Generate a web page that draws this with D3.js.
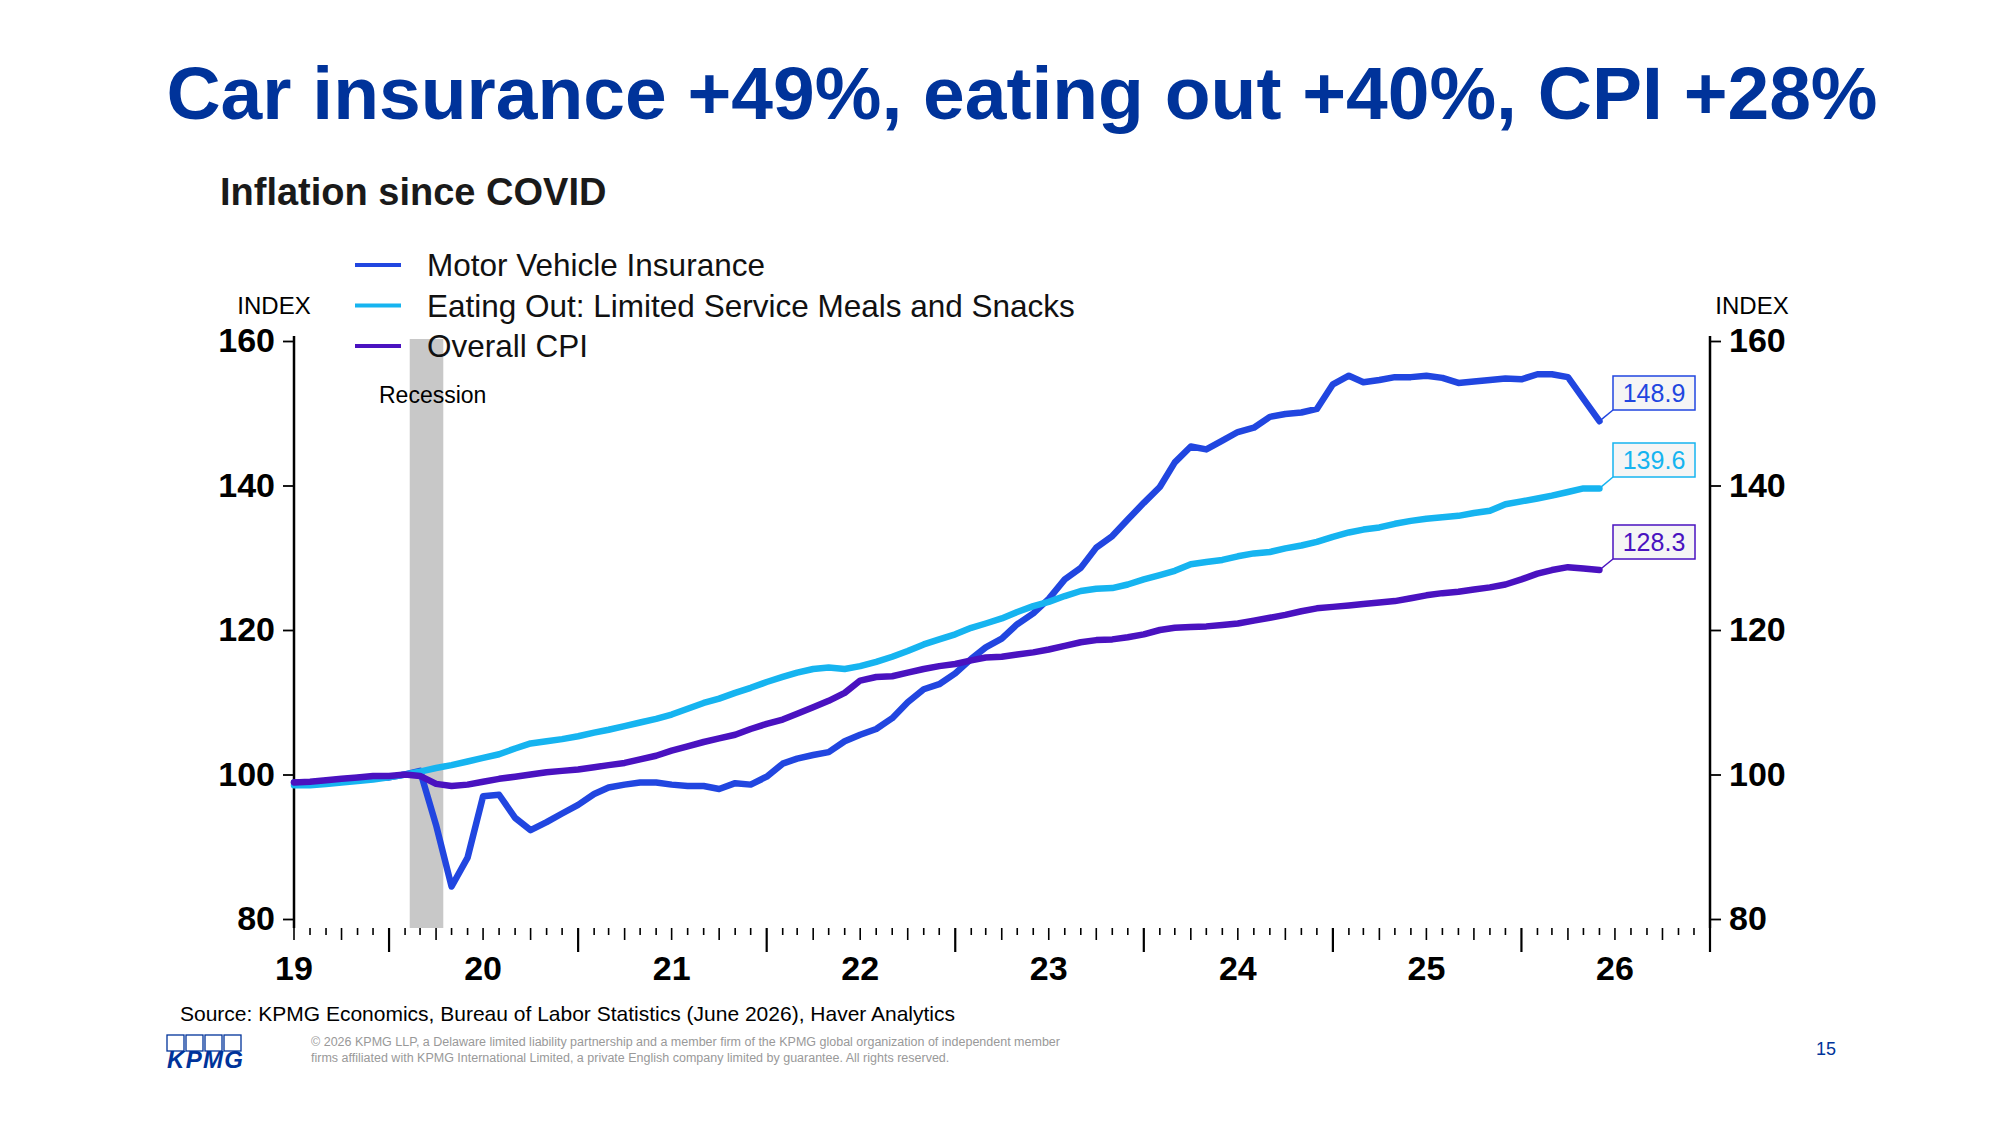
<!DOCTYPE html>
<html>
<head>
<meta charset="utf-8">
<script src="https://cdn.jsdelivr.net/npm/d3@7"></script>
<style>
  body { margin: 0; background: #fff; }
  svg { display: block; font-family: "Liberation Sans", Arial, sans-serif; }
</style>
</head>
<body>
<div id="chart"></div>
<script>
const width = 2001;
const height = 1125;

// monthly, Jul 2019 .. Jun 2026
const startMonth = new Date(2019, 6, 1);
const insurance = [98.9, 98.9, 99.1, 99.3, 99.5, 99.6, 99.6, 100.0, 100.5, 93.0, 84.5, 88.5,
  97.0, 97.2, 94.0, 92.3, 93.4, 94.6, 95.8, 97.3, 98.2, 98.6, 98.9, 98.9,
  98.6, 98.4, 98.4, 98.0, 98.8, 98.6, 99.7, 101.5, 102.2, 102.7, 103.1, 104.6,
  105.5, 106.3, 107.8, 110.0, 111.8, 112.5, 114.0, 116.0, 117.6, 118.8, 120.8, 122.3,
  124.3, 127.0, 128.6, 131.4, 133.0, 135.3, 137.6, 139.8, 143.2, 145.4, 145.0, 146.2,
  147.4, 148.0, 149.5, 149.9, 150.1, 150.6, 154.0, 155.2, 154.3, 154.6, 155.0, 155.0,
  155.2, 154.9, 154.2, 154.4, 154.6, 154.8, 154.7, 155.4, 155.4, 155.0, 152.0, 148.9];
const eatingOut = [98.5, 98.5, 98.7, 98.9, 99.1, 99.3, 99.6, 100.0, 100.4, 100.9, 101.3, 101.8,
  102.3, 102.8, 103.6, 104.3, 104.6, 104.9, 105.3, 105.8, 106.2, 106.7, 107.2, 107.7,
  108.3, 109.1, 109.9, 110.5, 111.3, 112.0, 112.8, 113.5, 114.1, 114.6, 114.8, 114.6,
  115.0, 115.6, 116.3, 117.1, 118.0, 118.7, 119.4, 120.3, 120.9, 121.6, 122.5, 123.3,
  123.9, 124.7, 125.4, 125.7, 125.8, 126.3, 127.0, 127.6, 128.2, 129.1, 129.4, 129.7,
  130.2, 130.6, 130.8, 131.3, 131.7, 132.2, 132.9, 133.5, 133.9, 134.2, 134.7, 135.1,
  135.4, 135.6, 135.8, 136.2, 136.5, 137.4, 137.8, 138.2, 138.6, 139.1, 139.6, 139.6];
const cpi = [98.9, 99.0, 99.2, 99.4, 99.6, 99.8, 99.8, 100.0, 99.8, 98.7, 98.4, 98.6,
  99.0, 99.4, 99.7, 100.0, 100.3, 100.5, 100.7, 101.0, 101.3, 101.6, 102.1, 102.6,
  103.3, 103.9, 104.5, 105.0, 105.5, 106.3, 107.0, 107.6, 108.4, 109.3, 110.2, 111.3,
  113.0, 113.5, 113.6, 114.1, 114.6, 115.0, 115.3, 115.8, 116.2, 116.3, 116.6, 116.9,
  117.3, 117.8, 118.3, 118.6, 118.7, 119.0, 119.4, 120.0, 120.3, 120.4, 120.5, 120.7,
  120.9, 121.3, 121.7, 122.1, 122.6, 123.0, 123.2, 123.4, 123.6, 123.8, 124.0, 124.4,
  124.8, 125.1, 125.3, 125.6, 125.9, 126.3, 127.0, 127.8, 128.3, 128.7, 128.5, 128.3];

const seriesNames = ["Motor Vehicle Insurance", "Eating Out: Limited Service Meals and Snacks", "Overall CPI"];
const seriesColors = ["#2146e0", "#16b4f0", "#4a12c0"];
const endLabels = ["148.9", "139.6", "128.3"];
const yTicks = [80, 100, 120, 140, 160];
const yearLabels = ["19", "20", "21", "22", "23", "24", "25", "26"];
const recession = [new Date(2020, 1, 10), new Date(2020, 3, 15)];

const x = d3.scaleTime().domain([startMonth, new Date(2027, 0, 1)]).range([294, 1710]);
const y = d3.scaleLinear().domain([80, 160]).range([919, 341]);

const svg = d3.select("#chart").append("svg").attr("width", width).attr("height", height);

// title
svg.append("text").attr("x", 1022).attr("y", 119).attr("text-anchor", "middle")
  .attr("font-size", 75).attr("font-weight", "bold").attr("fill", "#00339a")
  .text("Car insurance +49%, eating out +40%, CPI +28%");
svg.append("text").attr("x", 220).attr("y", 205)
  .attr("font-size", 38).attr("font-weight", "bold").attr("fill", "#1a1a1a")
  .text("Inflation since COVID");

// recession band
svg.append("rect")
  .attr("x", x(recession[0])).attr("width", x(recession[1]) - x(recession[0]))
  .attr("y", 339).attr("height", 928 - 339).attr("fill", "#c8c8c8");
svg.append("text").attr("x", 379).attr("y", 403).attr("font-size", 23).attr("fill", "#000").text("Recession");

// y axes
const leftAxis = d3.axisLeft(y).tickValues(yTicks).tickSize(11).tickPadding(8);
const rightAxis = d3.axisRight(y).tickValues(yTicks).tickSize(11).tickPadding(8);
[[leftAxis, 294], [rightAxis, 1710]].forEach(([ax, px]) => {
  const g = svg.append("g").attr("transform", `translate(${px},0)`).call(ax);
  g.select(".domain").attr("d", `M0,336V928`).attr("stroke", "#000").attr("stroke-width", 2.5);
  g.selectAll(".tick line").attr("stroke", "#000").attr("stroke-width", 1.8);
  g.selectAll(".tick text").attr("font-size", 34).attr("font-weight", "bold")
    .attr("font-family", "Liberation Sans Narrow, Liberation Sans, Arial").attr("fill", "#000");
});
svg.append("text").attr("x", 274).attr("y", 314).attr("text-anchor", "middle")
  .attr("font-size", 24).attr("font-family", "Liberation Sans Narrow, Liberation Sans").text("INDEX");
svg.append("text").attr("x", 1752).attr("y", 314).attr("text-anchor", "middle")
  .attr("font-size", 24).attr("font-family", "Liberation Sans Narrow, Liberation Sans").text("INDEX");

// x axis ticks (no domain line)
const months = d3.timeMonth.range(startMonth, new Date(2027, 0, 2));
svg.append("g").selectAll("line").data(months).join("line")
  .attr("x1", d => x(d)).attr("x2", d => x(d))
  .attr("y1", 928)
  .attr("y2", d => d.getMonth() === 0 ? 952 : (d.getMonth() % 3 === 0 ? 940 : 935))
  .attr("stroke", "#000").attr("stroke-width", d => d.getMonth() === 0 ? 2.2 : 1.6);
svg.append("g").selectAll("text").data(yearLabels).join("text")
  .attr("x", (d, i) => x(new Date(2019 + i, 6, 1))).attr("y", 980)
  .attr("text-anchor", "middle").attr("font-size", 34).attr("font-weight", "bold")
  .attr("font-family", "Liberation Sans Narrow, Liberation Sans").text(d => d);

// lines
const seriesData = [insurance, eatingOut, cpi];
const line = d3.line()
  .x((d, i) => x(d3.timeMonth.offset(startMonth, i)))
  .y(d => y(d));
seriesData.forEach((vals, k) => {
  svg.append("path").datum(vals).attr("d", line)
    .attr("fill", "none").attr("stroke", seriesColors[k]).attr("stroke-width", 6.5)
    .attr("stroke-linejoin", "round").attr("stroke-linecap", "round");
});

// end labels
const boxY = [393, 460, 542];
seriesData.forEach((vals, k) => {
  const lx = x(d3.timeMonth.offset(startMonth, vals.length - 1));
  const ly = y(vals[vals.length - 1]);
  const bx = 1613, bw = 82, bh = 34, by = boxY[k] - bh / 2;
  svg.append("line").attr("x1", lx).attr("y1", ly).attr("x2", bx).attr("y2", by + bh)
    .attr("stroke", seriesColors[k]).attr("stroke-width", 1.5);
  svg.append("rect").attr("x", bx).attr("y", by).attr("width", bw).attr("height", bh)
    .attr("fill", "#f5f5f5").attr("stroke", seriesColors[k]).attr("stroke-width", 1.5);
  svg.append("text").attr("x", bx + bw / 2).attr("y", by + bh / 2 + 9).attr("text-anchor", "middle")
    .attr("font-size", 25).attr("fill", seriesColors[k]).text(endLabels[k]);
});

// legend
seriesNames.forEach((name, k) => {
  const ly = 265 + k * 40.5;
  svg.append("line").attr("x1", 355).attr("x2", 401).attr("y1", ly).attr("y2", ly)
    .attr("stroke", seriesColors[k]).attr("stroke-width", 4);
  svg.append("text").attr("x", 427).attr("y", ly + 11).attr("font-size", 31.5)
    .attr("fill", "#111").text(name);
});

// footer
svg.append("text").attr("x", 180).attr("y", 1021).attr("font-size", 21).attr("fill", "#000")
  .text("Source: KPMG Economics, Bureau of Labor Statistics (June 2026), Haver Analytics");
svg.append("text").attr("x", 311).attr("y", 1046).attr("font-size", 12.5).attr("fill", "#999")
  .text("© 2026 KPMG LLP, a Delaware limited liability partnership and a member firm of the KPMG global organization of independent member");
svg.append("text").attr("x", 311).attr("y", 1062).attr("font-size", 12.5).attr("fill", "#999")
  .text("firms affiliated with KPMG International Limited, a private English company limited by guarantee. All rights reserved.");
svg.append("text").attr("x", 1816).attr("y", 1055).attr("font-size", 18).attr("fill", "#00339a").text("15");
const logo = svg.append("g").attr("transform", "translate(167,1035)");
d3.range(4).forEach(i => {
  logo.append("rect").attr("x", i * 19).attr("y", 0).attr("width", 17).attr("height", 16)
    .attr("fill", "none").attr("stroke", "#00339a").attr("stroke-width", 1.3);
});
logo.append("text").attr("x", 0).attr("y", 33).attr("font-size", 24).attr("font-weight", "bold")
  .attr("font-style", "italic").attr("fill", "#00339a").attr("textLength", 76).text("KPMG");
</script>
</body>
</html>
